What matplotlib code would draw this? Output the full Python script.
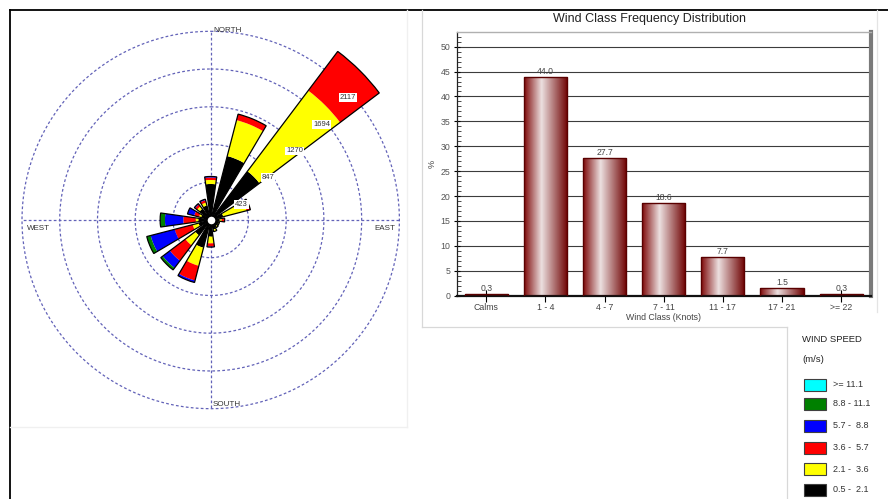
import numpy as np
import matplotlib
matplotlib.use("Agg")
import matplotlib.pyplot as plt
from matplotlib.patches import Rectangle
from matplotlib.lines import Line2D
from matplotlib.colors import LinearSegmentedColormap

plt.rcParams["font.family"] = ["Liberation Sans", "DejaVu Sans"]

W, H = 888, 499

# ---- wind rose data: counts per direction (N, NNE, ... NNW) and speed class ----
directions = ["N", "NNE", "NE", "ENE", "E", "ESE", "SE", "SSE",
              "S", "SSW", "SW", "WSW", "W", "WNW", "NW", "NNW"]
dir_angles = [0, 22.5, 45, 67.5, 90, 112.5, 135, 157.5,
              180, 202.5, 225, 247.5, 270, 292.5, 315, 337.5]

counts_05_21 = [404, 741, 685, 146, 101, 90, 90, 112, 187, 322, 217, 141, 139, 112, 157, 168]
counts_21_36 = [45, 416, 1133, 269, 22, 11, 17, 23, 75, 209, 139, 68, 29, 23, 34, 34]
counts_36_57 = [28, 70, 550, 45, 34, 0, 0, 0, 37, 170, 216, 208, 139, 56, 28, 28]
counts_57_88 = [11, 0, 0, 0, 0, 0, 0, 0, 5, 23, 101, 279, 206, 78, 11, 11]
counts_88_111 = [0, 0, 0, 0, 0, 0, 0, 0, 0, 0, 28, 45, 54, 0, 0, 0]
counts_111 = [0] * 16

speed_labels = ["0.5 -  2.1", "2.1 -  3.6", "3.6 -  5.7", "5.7 -  8.8", "8.8 - 11.1", ">= 11.1"]
speed_colors = ["#000000", "#ffff00", "#ff0000", "#0000ff", "#008000", "#00ffff"]

ring_values = [423, 847, 1270, 1694, 2117]
compass_labels = ["NORTH", "EAST", "SOUTH", "WEST"]

# ---- wind class frequency data ----
wind_classes = ["Calms", "1 - 4", "4 - 7", "7 - 11", "11 - 17", "17 - 21", ">= 22"]
class_percent = [0.3, 44.0, 27.7, 18.6, 7.7, 1.5, 0.3]


def fx(x):
    return x / W


def fy(y):
    return 1 - y / H


fig = plt.figure(figsize=(W / 100, H / 100), dpi=100)
fig.patch.set_facecolor("white")

# ---------------- wind rose ----------------
cx, cy = 210.7, 220.0
px_per_count = 188.7 / ring_values[-1]
rmax = 2450
R_px = rmax * px_per_count
ax_r = fig.add_axes([fx(cx - R_px), (H - cy - R_px) / H, 2 * R_px / W, 2 * R_px / H],
                    projection="polar")
ax_r.set_theta_zero_location("N")
ax_r.set_theta_direction(-1)
ax_r.set_ylim(0, rmax)
ax_r.grid(False)
ax_r.set_xticks([])
ax_r.set_yticks([])
ax_r.spines["polar"].set_visible(False)
ax_r.patch.set_visible(False)

grid_col = "#6262b8"
dash = (0, (2.2, 1.8))
t = np.linspace(0, 2 * np.pi, 500)
for rv in ring_values:
    ax_r.plot(t, np.full_like(t, rv), color=grid_col, lw=0.9, ls=dash, zorder=1)
for a in [0, 90, 180, 270]:
    ax_r.plot([np.deg2rad(a)] * 2, [0, ring_values[-1]], color=grid_col, lw=0.9, ls=dash, zorder=1)

theta = np.deg2rad(dir_angles)
petal_w = np.deg2rad(16)
series = [counts_05_21, counts_21_36, counts_36_57, counts_57_88, counts_88_111, counts_111]
bottom = np.zeros(len(theta))
for vals, col in zip(series, speed_colors):
    vals = np.asarray(vals, dtype=float)
    ax_r.bar(theta, vals, width=petal_w, bottom=bottom, color=col, edgecolor="none", zorder=3)
    bottom += vals
ax_r.bar(theta, bottom, width=petal_w, fill=False, edgecolor="black", lw=0.9, zorder=4)
ax_r.scatter([0], [0], s=42, c="white", edgecolors="black", linewidths=1.0, zorder=5)

for rv in ring_values:
    ax_r.annotate(str(rv), xy=(np.deg2rad(45), rv), xytext=(4, -11), textcoords="offset pixels",
                  ha="center", va="center", fontsize=5.5, color="#333333", zorder=6,
                  bbox=dict(boxstyle="square,pad=0.12", fc="white", ec="none"))

fig.text(fx(213), fy(31), compass_labels[0], fontsize=5.8, color="#333333", ha="left", va="center")
fig.text(fx(395), fy(228), compass_labels[1], fontsize=5.8, color="#333333", ha="right", va="center")
fig.text(fx(213), fy(405), compass_labels[2], fontsize=5.8, color="#333333", ha="left", va="center")
fig.text(fx(26.5), fy(228), compass_labels[3], fontsize=5.8, color="#333333", ha="left", va="center")

# ---------------- frequency bar chart ----------------
ax_b = fig.add_axes([fx(456.7), fy(295.7), (870.7 - 456.7) / W, (295.7 - 31.7) / H])
x = np.arange(len(wind_classes))
bars = ax_b.bar(x, class_percent, width=0.73, facecolor="none", edgecolor="#5a0000", lw=1.0, zorder=3)

cmap = LinearSegmentedColormap.from_list(
    "barshade", [(0.0, "#7e0808"), (0.4, "#ece0e0"), (1.0, "#6e0000")])
grad = np.linspace(0, 1, 256).reshape(1, -1)
for patch in bars:
    x0, y0 = patch.get_x(), patch.get_y()
    w, h = patch.get_width(), patch.get_height()
    im = ax_b.imshow(grad, cmap=cmap, extent=(x0, x0 + w, y0, y0 + h), aspect="auto",
                     interpolation="bilinear", zorder=2)
    im.set_clip_path(patch)

for xi, v in zip(x, class_percent):
    ax_b.annotate(f"{v:.1f}", xy=(xi, v), xytext=(0, 1), textcoords="offset pixels",
                  ha="center", va="bottom", fontsize=6.2, color="#444444")

ax_b.set_xlim(-0.5, len(wind_classes) - 0.5)
ax_b.set_ylim(0, 53)
ax_b.set_yticks(np.arange(0, 51, 5))
ax_b.set_yticks(np.arange(0, 53, 1), minor=True)
ax_b.set_xticks(x)
ax_b.set_xticklabels(wind_classes)
ax_b.tick_params(axis="y", which="major", direction="inout", length=5, width=0.8,
                 labelsize=6.3, labelcolor="#555555", pad=2)
ax_b.tick_params(axis="y", which="minor", direction="in", length=3, width=0.5)
ax_b.tick_params(axis="x", which="major", direction="inout", length=8, width=0.8,
                 labelsize=6.3, labelcolor="#444444", pad=1)
ax_b.set_axisbelow(True)
ax_b.yaxis.grid(True, which="major", color="#3c3c3c", lw=0.8)
ax_b.set_xlabel("Wind Class (Knots)", fontsize=6.3, color="#444444", labelpad=1)
ax_b.set_ylabel("%", fontsize=6.5, color="#444444", labelpad=3)
ax_b.spines["left"].set_color("#222222")
ax_b.spines["left"].set_linewidth(0.9)
ax_b.spines["bottom"].set_color("#111111")
ax_b.spines["bottom"].set_linewidth(1.6)
ax_b.spines["right"].set_color("#7a7a7a")
ax_b.spines["right"].set_linewidth(3)
ax_b.spines["top"].set_color("#b0b0b0")
ax_b.spines["top"].set_linewidth(1)
ax_b.set_facecolor("white")

fig.text(fx(649), fy(19), "Wind Class Frequency Distribution", fontsize=9, color="#222222",
         ha="center", va="center")

# ---------------- panel borders ----------------
def line(x0, y0, x1, y1, color, lw):
    fig.add_artist(Line2D([fx(x0), fx(x1)], [fy(y0), fy(y1)], color=color, lw=lw,
                          transform=fig.transFigure))


line(10, 10, 888, 10, "#000000", 1.3)
line(10, 10, 10, 499, "#000000", 1.3)
line(406.5, 10, 406.5, 427, "#f0f0f0", 1.0)
line(10, 427, 406.5, 427, "#f0f0f0", 1.0)
line(421.5, 10, 421.5, 327, "#d8d8d8", 0.9)
line(421.5, 327, 787, 327, "#d8d8d8", 0.9)
line(876.5, 10, 876.5, 312, "#e4e4e4", 0.9)
line(787, 327, 787, 499, "#d8d8d8", 0.9)

# ---------------- speed legend ----------------
fig.text(fx(802), fy(339), "WIND SPEED", fontsize=6.8, color="#222222", ha="left", va="center")
fig.text(fx(802), fy(360), "(m/s)", fontsize=6.8, color="#222222", ha="left", va="center")
legend_y = [384.5, 403.5, 425.5, 447.5, 469, 490]
for yc, col, lab in zip(legend_y, speed_colors[::-1], speed_labels[::-1]):
    fig.add_artist(Rectangle((fx(803.5), fy(yc + 6)), 22.5 / W, 12 / H, transform=fig.transFigure,
                             fc=col, ec="#404040", lw=0.8))
    fig.text(fx(833), fy(yc), lab, fontsize=6.5, color="#333333", ha="left", va="center")

fig.savefig("out.png", dpi=100, facecolor="white")
